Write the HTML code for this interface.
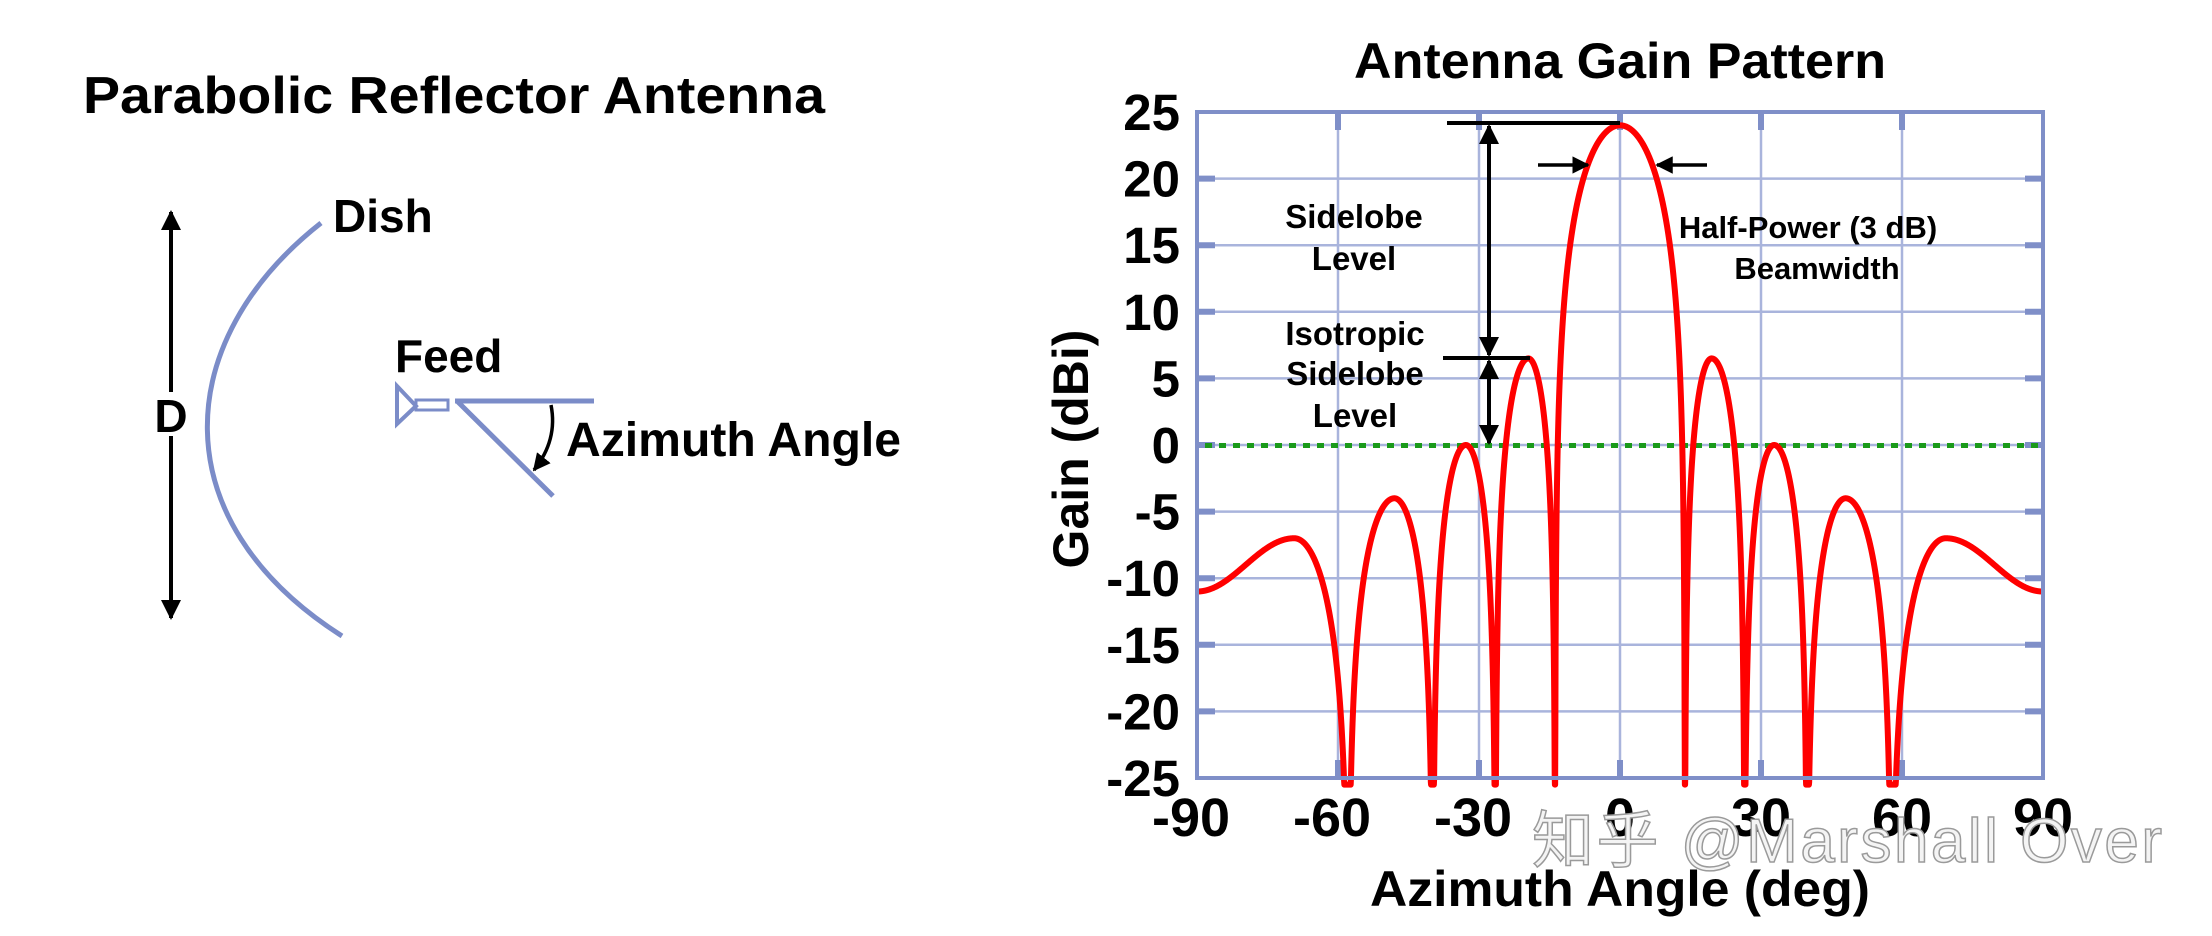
<!DOCTYPE html>
<html><head><meta charset="utf-8"><style>
html,body{margin:0;padding:0;background:#fff;}
svg{display:block;}
text{font-family:"Liberation Sans",Arial,sans-serif;font-weight:bold;fill:#000;}
</style></head><body>
<svg id="s" width="2212" height="936" viewBox="0 0 2212 936" xmlns="http://www.w3.org/2000/svg">
<defs>
<marker id="ah" viewBox="0 0 10 10" refX="9" refY="5" markerWidth="5" markerHeight="5" orient="auto-start-reverse"><path d="M0,0 L10,5 L0,10 z" fill="#000"/></marker>
</defs>
<!-- Left panel -->
<text x="83" y="113" textLength="742" lengthAdjust="spacingAndGlyphs" style="font-size:52px">Parabolic Reflector Antenna</text>
<path d="M321,223 C172,340 160,520 342,636" fill="none" stroke="#7b8cc8" stroke-width="5"/>
<line x1="171" y1="212" x2="171" y2="392" stroke="#000" stroke-width="4" marker-start="url(#ah)"/>
<line x1="171" y1="436" x2="171" y2="618" stroke="#000" stroke-width="4" marker-end="url(#ah)"/>
<text x="171" y="432" font-size="46" text-anchor="middle">D</text>
<text x="333" y="232" font-size="46">Dish</text>
<text x="395" y="372" font-size="46">Feed</text>
<path d="M397,386 L397,424 L416,406 Z" fill="none" stroke="#7b8cc8" stroke-width="4"/>
<rect x="416" y="400" width="32" height="10" fill="none" stroke="#7b8cc8" stroke-width="3"/>
<line x1="455" y1="401" x2="594" y2="401" stroke="#7b8cc8" stroke-width="5"/>
<line x1="457" y1="401" x2="553" y2="496" stroke="#7b8cc8" stroke-width="5"/>
<path d="M551,405 Q558,440 534,470" fill="none" stroke="#000" stroke-width="3.5" marker-end="url(#ah)"/>
<text x="566" y="456" font-size="48" textLength="335" lengthAdjust="spacingAndGlyphs">Azimuth Angle</text>

<!-- Right chart -->
<text x="1620" y="78" font-size="50" text-anchor="middle" textLength="532" lengthAdjust="spacingAndGlyphs">Antenna Gain Pattern</text>
<g id="grid" stroke="#a9b4dc" stroke-width="2.5"></g>
<g id="ticks" stroke="#7f8fc8" stroke-width="6"></g>
<line x1="1205" y1="445.5" x2="2040" y2="445.5" stroke="#1a9a1a" stroke-width="5" stroke-dasharray="7,7"/>
<path id="curve" fill="none" stroke="#f00" stroke-width="6" stroke-linejoin="round"/>
<rect x="1197" y="112" width="846" height="666" fill="none" stroke="#7f8fc8" stroke-width="4"/>
<g id="ylab" font-size="51"></g>
<g id="xlab" font-size="54"></g>
<text transform="translate(1088,449) rotate(-90)" font-size="50" text-anchor="middle">Gain (dBi)</text>
<text x="1620" y="906" font-size="50" text-anchor="middle" textLength="500" lengthAdjust="spacingAndGlyphs">Azimuth Angle (deg)</text>

<!-- annotations -->
<line x1="1447" y1="123" x2="1620" y2="123" stroke="#000" stroke-width="4"/>
<line x1="1443" y1="358" x2="1530" y2="358" stroke="#000" stroke-width="4"/>
<line x1="1489" y1="126" x2="1489" y2="355" stroke="#000" stroke-width="4" marker-start="url(#ah)" marker-end="url(#ah)"/>
<line x1="1489" y1="361" x2="1489" y2="443" stroke="#000" stroke-width="4" marker-start="url(#ah)" marker-end="url(#ah)"/>
<line x1="1538" y1="165" x2="1588" y2="165" stroke="#000" stroke-width="3.5" marker-end="url(#ah)"/>
<line x1="1707" y1="165" x2="1657" y2="165" stroke="#000" stroke-width="3.5" marker-end="url(#ah)"/>
<g font-size="33" text-anchor="middle">
<text x="1354" y="228">Sidelobe</text>
<text x="1354" y="270">Level</text>
<text x="1355" y="345">Isotropic</text>
<text x="1355" y="385">Sidelobe</text>
<text x="1355" y="427">Level</text>
<text x="1808" y="238" font-size="31">Half-Power (3 dB)</text>
<text x="1817" y="279" font-size="31">Beamwidth</text>
</g>
<text x="1532" y="862" font-size="62" style="font-family:'Liberation Sans','Noto Sans CJK SC',sans-serif;font-weight:normal;fill:#f4f4f4;stroke:#9a9a9a;stroke-width:1.5" textLength="630">知乎 @Marshall Over</text>
</svg>
<script>
(function(){
var NS="http://www.w3.org/2000/svg";
var L=1197,R=2043,T=112,B=778;
function X(t){return L+(t+90)*(R-L)/180;}
function Y(g){return T+(25-g)*(B-T)/50;}
var grid=document.getElementById('grid'),ticks=document.getElementById('ticks');
function ln(p,x1,y1,x2,y2){var l=document.createElementNS(NS,'line');l.setAttribute('x1',x1);l.setAttribute('y1',y1);l.setAttribute('x2',x2);l.setAttribute('y2',y2);p.appendChild(l);}
for(var g=20;g>-25;g-=5){var y=Y(g);ln(grid,L,y,R,y);ln(ticks,L,y,L+18,y);ln(ticks,R-18,y,R,y);}
for(var t=-60;t<=60;t+=30){var x=X(t);ln(grid,x,T,x,B);ln(ticks,x,T,x,T+18);ln(ticks,x,B-18,x,B);}
var yl=document.getElementById('ylab');
for(var g=25;g>=-25;g-=5){var e=document.createElementNS(NS,'text');e.setAttribute('x',1180);e.setAttribute('y',Y(g)+18);e.setAttribute('text-anchor','end');e.textContent=g;yl.appendChild(e);}
var xl=document.getElementById('xlab');
for(var t=-90;t<=90;t+=30){var e=document.createElementNS(NS,'text');e.setAttribute('x',X(t)+(t<0?-6:0));e.setAttribute('y',836);e.setAttribute('text-anchor','middle');e.textContent=t;xl.appendChild(e);}
var lobes=[[0,0,13.8,24],[13.8,19.5,26.5,6.5],[26.5,32.8,39.8,0],[39.8,48,57.8,-4]];
function gain(t){var a=Math.abs(t);
 for(var i=0;i<lobes.length;i++){var o=lobes[i];
  if(a<=o[2]){var s;
   if(i==0){s=Math.cos(Math.PI/2*a/o[2]);}
   else if(a<o[1]){s=Math.sin(Math.PI/2*(a-o[0])/(o[1]-o[0]));}
   else{s=Math.sin(Math.PI/2*(o[2]-a)/(o[2]-o[1]));}
   return o[3]+20*Math.log10(Math.max(s,1e-6));}}
 var p=69.3;
 if(a<p){var s=Math.sin(Math.PI/2*(a-57.8)/(p-57.8));return -7+20*Math.log10(Math.max(s,1e-6));}
 var u=(a-p)/(90-p);return -7-4*(1-Math.cos(Math.PI*u))/2;}
var d='';
for(var i=0;i<=3600;i++){var t=-90+i*0.05;var g=gain(t);
 if(g<-25.5){g=-25.5;}
 d+=(i==0?'M':'L')+X(t).toFixed(2)+','+Y(g).toFixed(2);}
document.getElementById('curve').setAttribute('d',d);
})();
</script>
</body></html>
